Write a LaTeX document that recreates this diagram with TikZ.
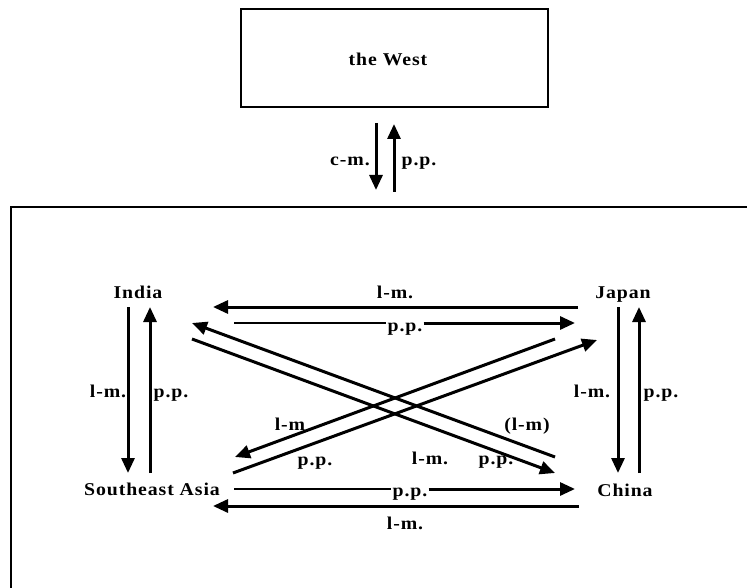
\documentclass[tikz,border=0pt]{standalone}
\usepackage{fontspec}
\newfontfamily\diafont[LetterSpace=5,FakeStretch=1.1]{Liberation Serif}
\usepackage{tikz}
\usetikzlibrary{arrows.meta,calc}

\begin{document}
\begin{tikzpicture}[x=1pt,y=-1pt,
    lbl/.style={font=\diafont\bfseries\fontsize{18}{21}\selectfont, inner sep=1pt, anchor=base},
    arr/.style={line width=3pt, -{Triangle[length=15pt,width=13pt]}},
    thinline/.style={line width=1.5pt}]
    \useasboundingbox (0,0) rectangle (747,588); \clip (0,0) rectangle (747,588);
    % frames
    \draw[line width=2pt] (241,9) rectangle (548,107); \draw[line width=2pt] (11,207) rectangle (800,650);

    % regions (placed at their baselines)
    \node[lbl] (W) at (388,66) {the West};
    \node[lbl] (I) at (138,298) {India}; \node[lbl] (J) at (623,298) {Japan};
    \node[lbl] (S) at (152,495) {Southeast Asia}; \node[lbl] (C) at (625,496) {China};

    % arrow ends
    \coordinate (W1) at (376,123); \coordinate (W2) at (376,190); \coordinate (W3) at (394,192); \coordinate (W4) at (394,124);
    \coordinate (I1) at (128,307); \coordinate (I2) at (128,473); \coordinate (I3) at (150,473); \coordinate (I4) at (150,307);
    \coordinate (J1) at (618,307); \coordinate (J2) at (618,473); \coordinate (J3) at (639,473); \coordinate (J4) at (639,307);
    \coordinate (JI1) at (578,307); \coordinate (JI2) at (213,307); \coordinate (IJ1) at (234,323); \coordinate (IJ2) at (575,323);
    \coordinate (SC1) at (234,489); \coordinate (SC2) at (575,489); \coordinate (CS1) at (579,506); \coordinate (CS2) at (213,506);
    \coordinate (IC1) at (192,339); \coordinate (IC2) at (555,473); \coordinate (CI1) at (555,457); \coordinate (CI2) at (192,323);
    \coordinate (JS1) at (555,339); \coordinate (JS2) at (235,457); \coordinate (SJ1) at (233,473); \coordinate (SJ2) at (597,340);

    % labels
    \foreach \n/\x/\y/\t in {cm/350/166/c-m., wpp/419/166/p.p., ilm/108/397/l-m., ipp/171/397/p.p.,
        jilm/395/298/l-m., jlm/592/397/l-m., jpp/661/397/p.p., jslm/290/430/l-m, sjpp/315/465/p.p.,
        iclm/430/464/l-m., icpp/496/464/p.p., cilm/527/430/(l-m), cslm/405/529/l-m.}
        \node[lbl] (\n) at (\x,\y) {\t};
    \node[lbl] (ijpp) at (405,331) {p.p.}; \node[lbl] (scpp) at (410,496) {p.p.};

    % flows
    \foreach \a/\b in {W1/W2, W3/W4, I1/I2, I3/I4, J1/J2, J3/J4, JI1/JI2, CS1/CS2, IC1/IC2, CI1/CI2, JS1/JS2, SJ1/SJ2}
        \draw[arr] (\a) -- (\b);
    \draw[thinline] (IJ1) -- (IJ1 -| ijpp.west); \draw[arr] (IJ2 -| ijpp.east) -- (IJ2);
    \draw[thinline] (SC1) -- (SC1 -| scpp.west); \draw[arr] (SC2 -| scpp.east) -- (SC2);
\end{tikzpicture}
\end{document}
